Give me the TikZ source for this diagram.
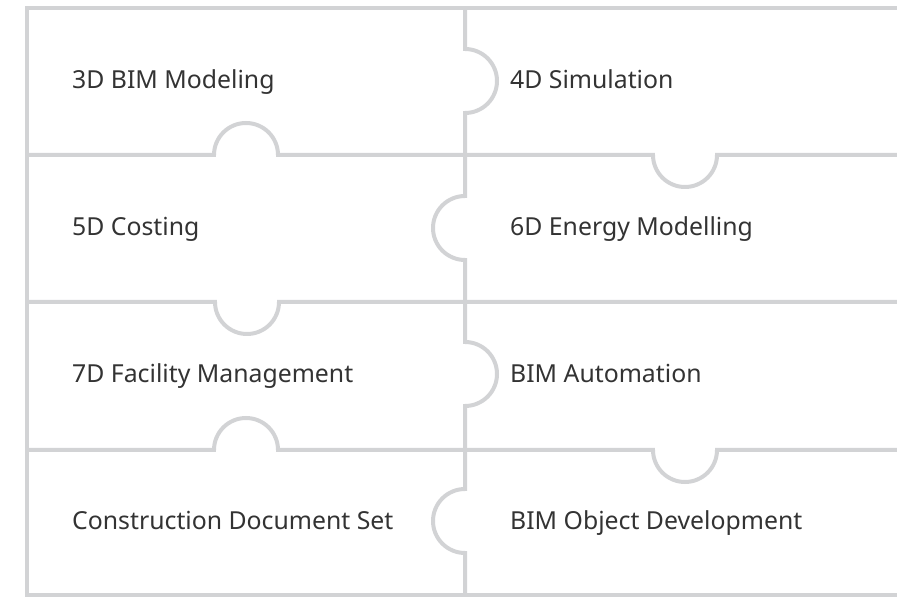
\documentclass[tikz,border=0pt]{standalone}
\usepackage{fontspec}
\setmainfont{Noto Sans}
\usepackage{tikz}
\definecolor{edge}{HTML}{D2D3D5}
\definecolor{ink}{HTML}{333333}
\tikzset{
  piece/.style={draw=edge,line width=4pt},
  lbl/.style={anchor=base west,inner sep=0pt,text=ink,font=\fontsize{24.8}{29}\selectfont}
}
\begin{document}
\begin{tikzpicture}[x=1pt,y=1pt]
      \useasboundingbox (0,0) rectangle (897,597);
      % frame
      \draw[piece] (897,589) -- (27,589) -- (27,2) -- (897,2);
      % middle cut
      \draw[piece] (465,589) -- (465,548) arc[start angle=90,end angle=-90,radius=32pt]
        -- (465,401) arc[start angle=90,end angle=270,radius=32pt]
        -- (465,255) arc[start angle=90,end angle=-90,radius=32pt]
        -- (465,108) arc[start angle=90,end angle=270,radius=32pt] -- (465,2);
      % row cuts
      \draw[piece] (27,442) -- (214,442) arc[start angle=180,end angle=0,radius=32pt]
        -- (653,442) arc[start angle=180,end angle=360,radius=32pt] -- (897,442);
      \draw[piece] (27,295) -- (215,295) arc[start angle=180,end angle=360,radius=32pt] -- (897,295);
      \draw[piece] (27,147) -- (214,147) arc[start angle=180,end angle=0,radius=32pt]
        -- (653,147) arc[start angle=180,end angle=360,radius=32pt] -- (897,147);

      \node[lbl] (bim) at (72,508.5) {3D BIM Modeling}; \node[lbl] (sim) at (510,508.5) {4D Simulation};
      \node[lbl] (cost) at (72,361.5) {5D Costing}; \node[lbl] (energy) at (510,361.5) {6D Energy Modelling};
      \node[lbl] (fm) at (72,214) {7D Facility Management}; \node[lbl] (auto) at (510,214) {BIM Automation};
      \node[lbl] (docs) at (72,67) {Construction Document Set}; \node[lbl] (obj) at (510,67) {BIM Object Development};
    \end{tikzpicture}
\end{document}
